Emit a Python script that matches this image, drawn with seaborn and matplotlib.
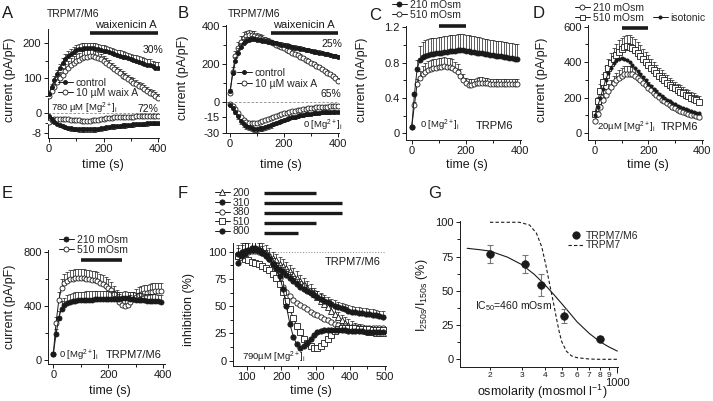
import numpy as np
import matplotlib
matplotlib.use("Agg")
import matplotlib.pyplot as plt
import matplotlib.transforms as mtrans
import seaborn as sns
from matplotlib.lines import Line2D
from matplotlib.ticker import FixedLocator, FixedFormatter

# ---------------- data ----------------
t_ab = np.arange(0, 401, 10)      # sampling times panels A, B (s)
t_cde = np.arange(0, 391, 10)     # panels C, D, E
t_f = np.arange(75, 496, 10)      # panel F

# A: TRPM7/M6, 780 uM Mg, outward (pA/pF) and inward currents
a_ctrl_out = [55, 75, 95, 112, 128, 142, 153, 162, 169, 175, 179, 182, 184, 185, 186, 186, 185, 184, 182, 180,
              178, 176, 174, 171, 169, 166, 164, 161, 159, 156, 154, 151, 149, 146, 143, 141, 138, 136, 133, 130, 128]
a_waix_out = [50, 62, 75, 88, 100, 110, 120, 128, 136, 142, 148, 152, 156, 159, 161, 162, 162, 161, 158, 153,
              148, 143, 137, 131, 125, 119, 113, 107, 102, 97, 92, 87, 82, 78, 73, 68, 63, 58, 53, 48, 43]
a_ctrl_out_err = [5, 8, 10, 12, 13, 14, 15, 15, 15, 15, 15, 15, 15, 15, 15, 15, 15, 15, 15, 15,
                  15, 15, 15, 15, 15, 15, 15, 15, 15, 15, 16, 16, 16, 16, 16, 16, 17, 17, 17, 17, 17]
a_waix_out_err = [8, 10, 12, 14, 16, 18, 20, 20, 20, 20, 20, 20, 20, 20, 20, 20, 20, 18, 17, 16,
                  15, 14, 14, 13, 13, 13, 12, 12, 12, 12, 12, 12, 12, 12, 12, 12, 12, 12, 12, 12, 12]
a_ctrl_in = [-1.2, -2.5, -3.5, -4.2, -4.8, -5.2, -5.5, -5.8, -6.0, -6.2, -6.3, -6.4, -6.5, -6.5, -6.5, -6.5, -6.5,
             -6.4, -6.3, -6.1, -5.9, -5.7, -5.5, -5.3, -5.2, -5.1, -5.0, -4.9, -4.8, -4.7, -4.6, -4.5, -4.4, -4.3,
             -4.2, -4.2, -4.1, -4.0, -4.0, -3.9, -3.8]
a_waix_in = [-3.5, -2.8, -2.4, -2.2, -2.2, -2.3, -2.4, -2.5, -2.6, -2.7, -2.8, -2.9, -3.0, -3.0, -3.0, -3.0, -2.9,
             -2.8, -2.6, -2.4, -2.2, -2.0, -1.9, -1.8, -1.7, -1.7, -1.6, -1.6, -1.5, -1.5, -1.4, -1.4, -1.3, -1.3,
             -1.2, -1.2, -1.1, -1.1, -1.0, -1.0, -1.0]
a_ctrl_in_err = [0.4, 0.5, 0.6, 0.7, 0.8, 0.9, 1.0, 1.0, 1.0, 1.0, 1.0, 1.0, 1.0, 1.0, 1.0, 1.0, 1.0, 1.0, 1.0, 1.0,
                 1.0, 1.0, 1.0, 1.0, 1.0, 1.0, 1.0, 1.0, 1.0, 1.0, 0.9, 0.9, 0.9, 0.9, 0.9, 0.9, 0.9, 0.9, 0.9, 0.9, 0.9]

# B: TRPM7/M6, 0 Mg
b_ctrl_out = [60, 150, 215, 260, 290, 310, 322, 328, 330, 330, 328, 326, 323, 320, 317, 314, 311, 308, 305, 302,
              299, 296, 292, 289, 286, 283, 280, 277, 274, 271, 268, 265, 262, 259, 256, 253, 250, 246, 243, 240, 237]
b_waix_out = [45, 160, 240, 285, 315, 335, 345, 350, 350, 347, 343, 338, 333, 327, 321, 315, 309, 302, 296, 289,
              282, 275, 268, 260, 253, 245, 238, 230, 222, 214, 206, 198, 190, 182, 173, 164, 155, 145, 135, 124, 112]
b_waix_out_err = [10, 25, 30, 32, 32, 32, 30, 28, 26, 24, 22, 20, 18, 16, 14, 13, 12, 12, 12, 12,
                  12, 12, 12, 12, 12, 12, 12, 12, 12, 12, 12, 12, 12, 12, 12, 12, 12, 12, 12, 12, 12]
b_ctrl_out_err = [8, 15, 20, 22, 22, 20, 18, 16, 15, 14, 13, 12, 12, 12, 12, 12, 12, 12, 12, 12,
                  12, 12, 12, 12, 12, 12, 12, 12, 12, 12, 12, 12, 12, 12, 12, 12, 12, 12, 12, 12, 12]
b_ctrl_in = [-3, -6, -10, -14, -18, -21, -23, -24.5, -25.5, -26, -26, -25.5, -25, -24, -23, -22, -21, -20, -19, -18,
             -17.2, -16.4, -15.6, -14.9, -14.2, -13.6, -13, -12.5, -12, -11.6, -11.2, -10.9, -10.6, -10.3, -10.1,
             -9.9, -9.7, -9.6, -9.5, -9.4, -9.3]
b_waix_in = [-2, -4, -7, -11, -14.5, -17, -19, -20, -20.5, -20.5, -20, -19.5, -18.5, -17.5, -16.5, -15.5, -14.5,
             -13.5, -12.5, -11.7, -10.9, -10.2, -9.5, -8.9, -8.3, -7.8, -7.3, -6.9, -6.5, -6.1, -5.8, -5.5, -5.2,
             -5.0, -4.8, -4.6, -4.4, -4.3, -4.2, -4.1, -4.0]
b_ctrl_in_err = [1, 1.5, 2, 2.5, 3, 3, 3, 3, 3, 3, 3, 3, 3, 3, 3, 2.8, 2.6, 2.4, 2.2, 2, 2, 2, 2, 2, 2, 2, 2, 2, 2, 2,
                 1.8, 1.8, 1.8, 1.8, 1.8, 1.6, 1.6, 1.6, 1.6, 1.6, 1.6]

# C: TRPM6, nA/pF
c_210 = [0.07, 0.44, 0.73, 0.83, 0.86, 0.88, 0.89, 0.895, 0.90, 0.905, 0.91, 0.915, 0.92, 0.925, 0.93, 0.93, 0.935,
         0.94, 0.94, 0.94, 0.935, 0.93, 0.925, 0.92, 0.915, 0.91, 0.905, 0.90, 0.895, 0.89, 0.885, 0.88, 0.875,
         0.87, 0.865, 0.86, 0.855, 0.85, 0.845, 0.84]
c_510 = [0.07, 0.32, 0.56, 0.63, 0.67, 0.70, 0.72, 0.73, 0.74, 0.745, 0.75, 0.755, 0.76, 0.755, 0.75, 0.74, 0.72,
         0.69, 0.65, 0.60, 0.565, 0.55, 0.55, 0.56, 0.57, 0.575, 0.575, 0.57, 0.565, 0.56, 0.56, 0.56, 0.56, 0.56,
         0.56, 0.56, 0.56, 0.56, 0.56, 0.56]
c_210_err = [0.0, 0.03, 0.10, 0.16, 0.17, 0.18, 0.18, 0.18, 0.18, 0.18, 0.18, 0.18, 0.18, 0.18, 0.18, 0.18, 0.18,
             0.18, 0.18, 0.18, 0.18, 0.18, 0.18, 0.18, 0.18, 0.18, 0.18, 0.17, 0.17, 0.17, 0.17, 0.17, 0.17, 0.17,
             0.17, 0.17, 0.17, 0.17, 0.17, 0.17]
c_510_err = [0.0, 0.03, 0.05, 0.08, 0.09, 0.10, 0.10, 0.10, 0.10, 0.10, 0.10, 0.10, 0.10, 0.10, 0.10, 0.10, 0.09,
             0.09, 0.08, 0.07, 0.06, 0.06, 0.06, 0.06, 0.06, 0.06, 0.06, 0.06, 0.06, 0.06, 0.06, 0.06, 0.06, 0.06,
             0.06, 0.06, 0.06, 0.06, 0.06, 0.06]

# D: TRPM6, 20 uM Mg
d_iso = [100, 150, 200, 250, 300, 340, 370, 395, 410, 420, 422, 420, 412, 400, 385, 368, 350, 332, 314, 297,
         280, 265, 250, 236, 223, 211, 200, 190, 180, 171, 163, 155, 148, 141, 135, 129, 124, 120, 116, 112]
d_210 = [70, 110, 150, 185, 215, 240, 262, 282, 298, 312, 323, 331, 335, 335, 331, 323, 312, 299, 285, 270,
         255, 241, 227, 214, 202, 190, 179, 168, 158, 149, 141, 133, 126, 120, 114, 109, 104, 100, 97, 94]
d_510 = [110, 180, 240, 290, 330, 365, 395, 420, 442, 460, 475, 485, 490, 488, 480, 468, 453, 437, 420, 403,
         386, 370, 354, 339, 325, 311, 298, 285, 273, 262, 252, 242, 233, 224, 216, 208, 200, 193, 186, 178]
d_210_err = [10, 15, 25, 30, 35, 38, 40, 42, 43, 44, 45, 45, 45, 45, 44, 43, 42, 40, 38, 36,
             34, 32, 30, 28, 27, 26, 25, 24, 23, 22, 21, 20, 19, 18, 18, 17, 17, 16, 16, 15]
d_510_err = [15, 25, 35, 45, 50, 55, 58, 60, 62, 63, 64, 65, 65, 64, 63, 62, 60, 58, 56, 54,
             52, 50, 48, 46, 44, 43, 42, 41, 40, 39, 38, 37, 36, 35, 34, 33, 32, 31, 30, 30]

# E: TRPM7/M6, 0 Mg
e_210 = [45, 190, 310, 380, 405, 420, 428, 434, 438, 440, 442, 443, 444, 445, 446, 447, 448, 449, 450, 450,
         450, 450, 450, 451, 453, 455, 456, 455, 452, 449, 446, 444, 442, 440, 439, 437, 436, 434, 433, 431]
e_510 = [45, 275, 440, 535, 570, 585, 595, 600, 603, 604, 604, 603, 601, 598, 594, 588, 580, 571, 560, 548,
         535, 516, 490, 460, 430, 408, 398, 405, 425, 448, 466, 478, 487, 493, 498, 502, 505, 508, 510, 512]
e_210_err = [0, 40, 55, 55, 55, 58, 60, 62, 62, 62, 62, 62, 62, 62, 62, 62, 62, 62, 62, 62,
             60, 58, 56, 54, 52, 50, 50, 50, 50, 50, 50, 50, 50, 50, 50, 50, 50, 50, 50, 50]
e_510_err = [0, 40, 60, 65, 65, 66, 66, 66, 66, 66, 66, 66, 66, 66, 66, 66, 66, 65, 64, 63,
             62, 60, 58, 56, 54, 52, 52, 52, 54, 56, 57, 58, 58, 59, 59, 60, 60, 60, 60, 60]

# F: inhibition (%) at different osmolarities (mOsm)
f_osm = ["200", "310", "380", "510", "800"]
f_200 = [96, 99, 101, 102, 103, 103, 103, 102, 100, 97, 94, 92, 89, 87, 85, 82, 79, 76, 73, 70, 67, 64, 61, 58,
         55, 52, 49, 46, 43, 40, 37, 35, 33, 31, 30, 29, 28, 27, 26.5, 26, 25.5, 25, 25]
f_310 = [98, 100, 101, 102, 103, 103, 102, 100, 97, 93, 89, 86, 83, 81, 79, 76, 73, 70, 68, 66, 64, 62, 60, 58.5,
         57, 55, 53.5, 52, 50.5, 49, 48, 47, 46, 45, 44.5, 44, 43.5, 43, 42.5, 42, 41.5, 41, 40.5]
f_380 = [95, 97, 99, 100, 101, 101, 100, 99, 97, 94, 90, 84, 76, 68, 63, 59, 56, 53, 51, 49, 47, 45, 43, 41.5,
         40, 38.5, 37, 35.5, 34, 33, 32, 31.5, 31, 31, 30.5, 30.5, 30.5, 30, 30, 30, 30, 30, 30]
f_510 = [96, 95, 93, 92, 91, 90, 89, 87, 85, 83, 80, 76, 70, 63, 55, 47, 39, 32, 26, 20, 16, 13, 12, 12,
         13, 16, 20, 24, 27, 29, 30, 30, 30, 30, 30, 29.5, 29.5, 29, 29, 28.5, 28.5, 28, 28]
f_800 = [90, 96, 99, 101, 102, 102, 101, 99, 96, 93, 89, 85, 78, 66, 50, 34, 22, 15, 12, 13, 16, 20, 24, 26,
         27.5, 28, 28, 28, 28, 28, 28, 28, 27.5, 27.5, 27, 27, 27, 26.5, 26.5, 26.5, 26, 26, 26]
f_200_err = [7, 7, 7, 6, 6, 6, 6, 6, 6, 6, 6, 6, 6, 6, 6, 6, 6, 6, 6, 6, 6, 6, 6, 6, 6, 6, 6, 6, 6,
             5, 5, 5, 5, 5, 5, 5, 5, 5, 5, 5, 5, 5, 5]
f_310_err = [8, 8, 7, 7, 6, 6, 6, 5, 5, 5, 5, 5, 5, 5, 5, 5, 5, 5, 5, 5, 5, 5, 5, 5, 5, 5, 5, 5, 5,
             5, 5, 5, 5, 5, 5, 5, 5, 5, 5, 5, 5, 5, 5]
f_bar_start = [150, 150, 150, 150, 150]
f_bar_end = [300, 375, 375, 300, 250]

# G: I250s/I150s vs osmolarity
g_osm = [200, 310, 380, 510, 800]
g_ratio = [77, 69.5, 54, 31.5, 15]
g_sem = [6.5, 6.3, 8, 5, 2]
g_fit_osm = [150, 175, 200, 250, 300, 350, 400, 450, 500, 550, 600, 700, 800, 900, 1000]
g_fit_val = [81, 80, 79, 74.5, 69, 62, 54.5, 47, 40, 33.5, 27.5, 19, 13, 9, 6]
g_m7_osm = [200, 250, 290, 330, 360, 385, 405, 425, 445, 465, 480, 495, 525, 560, 600, 700, 800, 1000]
g_m7_val = [100, 100, 100, 98, 92, 82, 69, 55, 42, 29, 20, 13, 6, 2.5, 1.2, 0.2, 0, 0]

# application periods (s)
waix_on = [150, 400]
osm_on_cd = [100, 200]
osm_on_e = [100, 250]

# ---------------- style ----------------
sns.set_theme(style="ticks")
plt.rcParams["font.family"] = ["Liberation Sans", "DejaVu Sans"]
plt.rcParams["mathtext.fontset"] = "custom"
plt.rcParams["mathtext.rm"] = "Liberation Sans"
plt.rcParams["mathtext.it"] = "Liberation Sans:italic"
plt.rcParams["mathtext.bf"] = "Liberation Sans:bold"
plt.rcParams["mathtext.default"] = "regular"
plt.rcParams["axes.unicode_minus"] = False

W, H = 713, 401
fig = plt.figure(figsize=(W / 100, H / 100), dpi=100)
INK = "#1a1a1a"
TICK_FS, LAB_FS, TXT_FS, MG_FS = 8, 9, 7.5, 6.8


def new_ax(L, R, T, B):
    ax = fig.add_axes([L / W, 1 - B / H, (R - L) / W, (B - T) / H])
    ax.patch.set_alpha(0)
    sns.despine(ax=ax)
    for s in ("left", "bottom"):
        ax.spines[s].set_linewidth(0.7)
        ax.spines[s].set_color(INK)
    ax.tick_params(which="both", direction="out", width=0.7, color=INK, labelcolor=INK,
                   labelsize=TICK_FS, pad=1.5)
    ax.tick_params(which="major", length=3)
    ax.tick_params(which="minor", length=2)
    ax.rect_px = (L, R, T, B)
    return ax


def labels(ax, xl, xpos, yl, ypos):
    L, R, T, B = ax.rect_px
    ax.set_xlabel(xl, fontsize=LAB_FS, color=INK)
    ax.xaxis.set_label_coords((xpos[0] - L) / (R - L), (B - xpos[1]) / (B - T))
    ax.xaxis.label.set_va("center")
    ax.set_ylabel(yl, fontsize=LAB_FS, color=INK)
    ax.yaxis.set_label_coords((ypos[0] - L) / (R - L), (B - ypos[1]) / (B - T))
    ax.yaxis.label.set_va("center")


def ftext(x, y, s, ha="left", size=TXT_FS, **kw):
    fig.text(x / W, 1 - y / H, s, ha=ha, va="center", fontsize=size, color=INK, **kw)


def trace(ax, t, y, fill, err=None, down=False, marker="o", ms=3.6, z=3):
    t = np.asarray(t)
    y = np.asarray(y, dtype=float)
    if err is not None:
        e = np.asarray(err, dtype=float)
        zero = np.zeros_like(e)
        ax.errorbar(t, y, yerr=[e, zero] if down else [zero, e], fmt="none", ecolor=INK,
                    elinewidth=0.5, capsize=1.4, capthick=0.5, zorder=z - 0.5)
    sns.lineplot(x=t, y=y, ax=ax, color=INK, linewidth=0.7, marker=marker, markersize=ms,
                 markerfacecolor=INK if fill else "white", markeredgecolor=INK,
                 markeredgewidth=0.6, zorder=z, estimator=None)


def bar(ax, span, ypx, lw=2.6):
    tr = mtrans.blended_transform_factory(ax.transData, fig.transFigure)
    ax.plot(span, [1 - ypx / H] * 2, transform=tr, color=INK, lw=lw,
            solid_capstyle="butt", clip_on=False)


def handle(fill, marker="o", ms=3.6, line=True, ls="-"):
    return Line2D([], [], color=INK, lw=0.7 if line else 0, ls=ls, marker=marker, markersize=ms,
                  markerfacecolor=INK if fill else "white", markeredgecolor=INK, markeredgewidth=0.6)


def legend(handles, texts, x, y, spacing=0.0, hl=1.4):
    fig.legend(handles, texts, loc="upper left", bbox_to_anchor=(x / W, 1 - y / H),
               bbox_transform=fig.transFigure, frameon=False, fontsize=TXT_FS, handlelength=hl,
               handletextpad=0.3, labelspacing=spacing, borderpad=0, borderaxespad=0, numpoints=1)


def split_scale(ax, k):
    ax.set_yscale("function", functions=(lambda v: np.where(v >= 0, v, v * k),
                                         lambda v: np.where(v >= 0, v, v / k)))


def time_ticks(ax):
    ax.set_xticks([0, 200, 400])
    ax.xaxis.set_minor_locator(FixedLocator([100, 300]))


mg = r"[Mg$^{2+}$]$_i$"

# ---------------- A ----------------
axA = new_ax(47.6, 159.4, 29, 138)
split_scale(axA, 2.5 / 0.35)
axA.axhline(0, color="#8a8a8a", lw=0.6, ls=(0, (3, 2)), zorder=1)
trace(axA, t_ab, a_waix_out, False, a_waix_out_err)
trace(axA, t_ab, a_ctrl_out, True, a_ctrl_out_err, ms=2.9, z=4)
trace(axA, t_ab, a_waix_in, False)
trace(axA, t_ab, a_ctrl_in, True, a_ctrl_in_err, down=True, ms=2.9, z=4)
axA.set_xlim(-5, 405)
axA.set_ylim(-10, 240)
time_ticks(axA)
axA.set_yticks([-8, 0, 100, 200], labels=["-8", "0", "100", "200"])
axA.yaxis.set_minor_locator(FixedLocator([-4, 50, 150]))
bar(axA, waix_on, 33)
labels(axA, "time (s)", (103, 165), "current (pA/pF)", (10, 80))
ftext(47, 14, "TRPM7/M6")
ftext(95, 25, "waixenicin A", size=8)
ftext(163, 50, "30%", ha="right")
ftext(158, 109, "72%", ha="right")
ftext(51, 108, "780 µM " + mg, size=MG_FS)
legend([handle(True, ms=2.9), handle(False)], ["control", "10 µM waix A"], 58, 78)

# ---------------- B ----------------
axB = new_ax(226, 339.4, 25, 133)
split_scale(axB, 1.033 / 0.19)
axB.axhline(0, color="#8a8a8a", lw=0.6, ls=(0, (3, 2)), zorder=1)
trace(axB, t_ab, b_waix_out, False, b_waix_out_err)
trace(axB, t_ab, b_ctrl_out, True, b_ctrl_out_err, ms=2.9, z=4)
trace(axB, t_ab, b_waix_in, False)
trace(axB, t_ab, b_ctrl_in, True, b_ctrl_in_err, down=True, ms=2.9, z=4)
axB.set_xlim(-15, 405)
axB.set_ylim(-30, 405)
time_ticks(axB)
axB.set_yticks([-30, -15, 0, 200, 400], labels=["-30", "-15", "0", "200", "400"])
axB.yaxis.set_minor_locator(FixedLocator([100, 300]))
bar(axB, waix_on, 33)
labels(axB, "time (s)", (281, 165), "current (pA/pF)", (183, 78))
ftext(228, 14, "TRPM7/M6")
ftext(273, 25, "waixenicin A", size=8)
ftext(342, 44, "25%", ha="right")
ftext(341, 94, "65%", ha="right")
ftext(343, 125, "0 " + mg, ha="right", size=MG_FS)
legend([handle(True, ms=2.9), handle(False)], ["control", "10 µM waix A"], 237, 68, spacing=0.05)

# ---------------- C ----------------
axC = new_ax(406.3, 521.3, 25.6, 140)
trace(axC, t_cde, c_210, True, c_210_err, z=4)
trace(axC, t_cde, c_510, False, c_510_err)
axC.set_xlim(-20, 405)
axC.set_ylim(-0.076, 1.22)
time_ticks(axC)
axC.set_yticks([0, 0.4, 0.8, 1.2], labels=["0", "0.4", "0.8", "1.2"])
axC.yaxis.set_minor_locator(FixedLocator([0.2, 0.6, 1.0]))
bar(axC, osm_on_cd, 26)
labels(axC, "time (s)", (467, 165), "current (nA/pF)", (362, 80))
ftext(420, 125, "0 " + mg, size=MG_FS)
ftext(513, 126, "TRPM6", ha="right", size=8)
legend([handle(True), handle(False)], ["210 mOsm", "510 mOsm"], 392, 0)

# ---------------- D ----------------
axD = new_ax(588.3, 703, 24.9, 140)
trace(axD, t_cde, d_510, False, d_510_err, marker="s", ms=3.8)
trace(axD, t_cde, d_210, False, d_210_err, ms=3.8)
trace(axD, t_cde, d_iso, True, ms=2.3, z=5)
axD.set_xlim(-25, 405)
axD.set_ylim(-38, 610)
time_ticks(axD)
axD.set_yticks([0, 200, 400, 600])
axD.yaxis.set_minor_locator(FixedLocator([100, 300, 500]))
bar(axD, osm_on_cd, 27.5)
labels(axD, "time (s)", (648, 165), "current (pA/pF)", (542, 80))
ftext(597, 127, "20µM " + mg, size=MG_FS)
ftext(698, 127, "TRPM6", ha="right", size=8)
legend([handle(False), handle(False, marker="s")], ["210 mOsm", "510 mOsm"], 575, 3)
legend([handle(True, ms=2.3)], ["isotonic"], 653, 13)

# ---------------- E ----------------
axE = new_ax(48.35, 164.7, 250.3, 364)
trace(axE, t_cde, e_210, True, e_210_err, z=4)
trace(axE, t_cde, e_510, False, e_510_err)
axE.set_xlim(-18, 405)
axE.set_ylim(-30, 810)
time_ticks(axE)
axE.set_yticks([0, 400, 800])
axE.yaxis.set_minor_locator(FixedLocator([200, 600]))
bar(axE, osm_on_e, 260)
labels(axE, "time (s)", (110, 391), "current (pA/pF)", (10, 307))
ftext(59, 355, "0 " + mg, size=MG_FS)
ftext(106, 355, "TRPM7/M6", size=8)
legend([handle(True), handle(False)], ["210 mOsm", "510 mOsm"], 59, 235)

# ---------------- F ----------------
axF = new_ax(233.3, 385.7, 243, 366.1)
axF.axhline(100, color="#9a9a9a", lw=0.8, ls=(0, (1, 1.5)), zorder=1)
f_series = [f_200, f_310, f_380, f_510, f_800]
f_style = [(False, "^"), (True, "o"), (False, "o"), (False, "s"), (True, "o")]
f_err = [f_200_err, f_310_err, None, None, None]
for vals, (fill, mk), err in zip(f_series, f_style, f_err):
    trace(axF, t_f, vals, fill, err, marker=mk, ms=3.8, z=4 if fill else 3)
axF.set_xlim(61, 503)
axF.set_ylim(-5, 108)
axF.set_xticks([100, 200, 300, 400, 500])
axF.xaxis.set_minor_locator(FixedLocator([150, 250, 350, 450]))
axF.set_yticks([0, 25, 50, 75, 100])
axF.yaxis.set_minor_locator(FixedLocator([12.5, 37.5, 62.5, 87.5]))
for i, (s0, s1) in enumerate(zip(f_bar_start, f_bar_end)):
    bar(axF, [s0, s1], 193 + 10 * i, lw=2.4)
labels(axF, "time (s)", (311, 391), "inhibition (%)", (189, 309))
ftext(381, 262, "TRPM7/M6", ha="right", size=8)
ftext(242, 357, "790µM " + mg, size=MG_FS)
legend([handle(f, marker=m, ms=3.8) for f, m in f_style], f_osm, 215, 188, spacing=-0.04)

# ---------------- G ----------------
axG = new_ax(460, 618.1, 220.9, 366.7)
axG.set_xscale("log")
sns.lineplot(x=g_m7_osm, y=g_m7_val, ax=axG, color=INK, lw=0.8, ls=(0, (3, 2)), estimator=None)
sns.lineplot(x=g_fit_osm, y=g_fit_val, ax=axG, color=INK, lw=0.8, estimator=None)
axG.errorbar(g_osm, g_ratio, yerr=g_sem, fmt="none", ecolor="#777777", elinewidth=0.8,
             capsize=2.2, capthick=0.8, zorder=3)
sns.scatterplot(x=g_osm, y=g_ratio, ax=axG, s=30, color=INK, edgecolor=INK, linewidth=0.5, zorder=4)
axG.set_xlim(137, 1010)
axG.set_ylim(-5.4, 101)
axG.xaxis.set_major_locator(FixedLocator([1000]))
axG.xaxis.set_major_formatter(FixedFormatter(["1000"]))
axG.xaxis.set_minor_locator(FixedLocator([200, 300, 400, 500, 600, 700, 800, 900]))
axG.xaxis.set_minor_formatter(FixedFormatter(["2", "3", "4", "5", "6", "7", "8", "9"]))
axG.tick_params(axis="x", which="minor", labelsize=6, pad=1.5, length=2.5)
axG.tick_params(axis="x", which="major", labelsize=TICK_FS, pad=4, length=4)
axG.set_yticks([0, 25, 50, 75, 100])
axG.yaxis.set_minor_locator(FixedLocator([12.5, 37.5, 62.5, 87.5]))
labels(axG, r"osmolarity (mosmol l$^{-1}$)", (542, 392), r"I$_{250s}$/I$_{150s}$ (%)", (422, 295))
ftext(475, 306, r"IC$_{50}$=460 mOsm")
legend([handle(True, ms=5.3, line=False), Line2D([], [], color=INK, lw=0.8, ls=(0, (3, 2)))],
       ["TRPM7/M6", "TRPM7"], 568, 231, hl=1.45, spacing=-0.05)

# ---------------- panel letters ----------------
for letter, x, y in [("A", 2, 14), ("B", 178, 14), ("C", 369, 15), ("D", 533, 14),
                     ("E", 2, 193), ("F", 178, 193), ("G", 428, 193)]:
    ftext(x, y, letter, size=12)

fig.savefig("out.png", dpi=100)
